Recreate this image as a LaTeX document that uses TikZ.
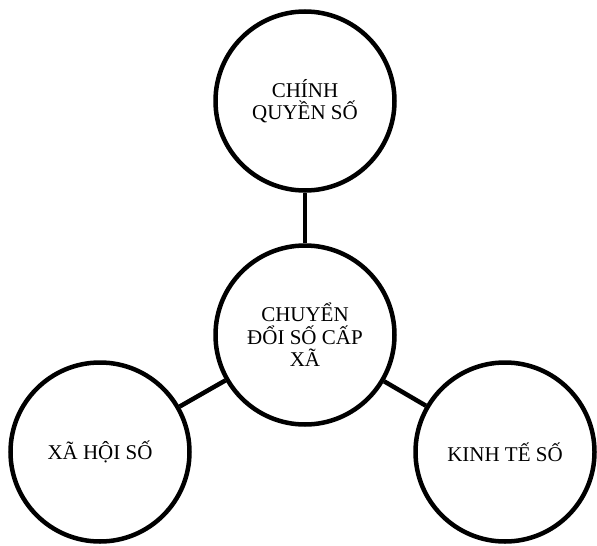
\documentclass[tikz,border=0pt]{standalone}
\usepackage{fontspec}
\setmainfont{Liberation Serif}

\begin{document}
\begin{tikzpicture}[x=1pt,y=-1pt,
  vong/.style={circle,draw,line width=4.5pt,minimum size=179pt,align=center,
    inner sep=0pt,font=\fontsize{21}{22.5}\selectfont},
  noi/.style={line width=4.5pt}]
\useasboundingbox (0,0) rectangle (597,546);
\node[vong] (cds) at (305,335) {CHUYỂN\\ĐỔI SỐ CẤP\\XÃ};
\node[vong] (cqs) at (305,101) {CHÍNH\\QUYỀN SỐ};
\node[vong] (xhs) at (100,452) {XÃ HỘI SỐ};
\node[vong] (kts) at (505,452) {KINH TẾ SỐ};
\draw[noi] (cds) -- (cqs);
\draw[noi] (cds) -- (xhs);
\draw[noi] (cds) -- (kts);
\end{tikzpicture}
\end{document}
